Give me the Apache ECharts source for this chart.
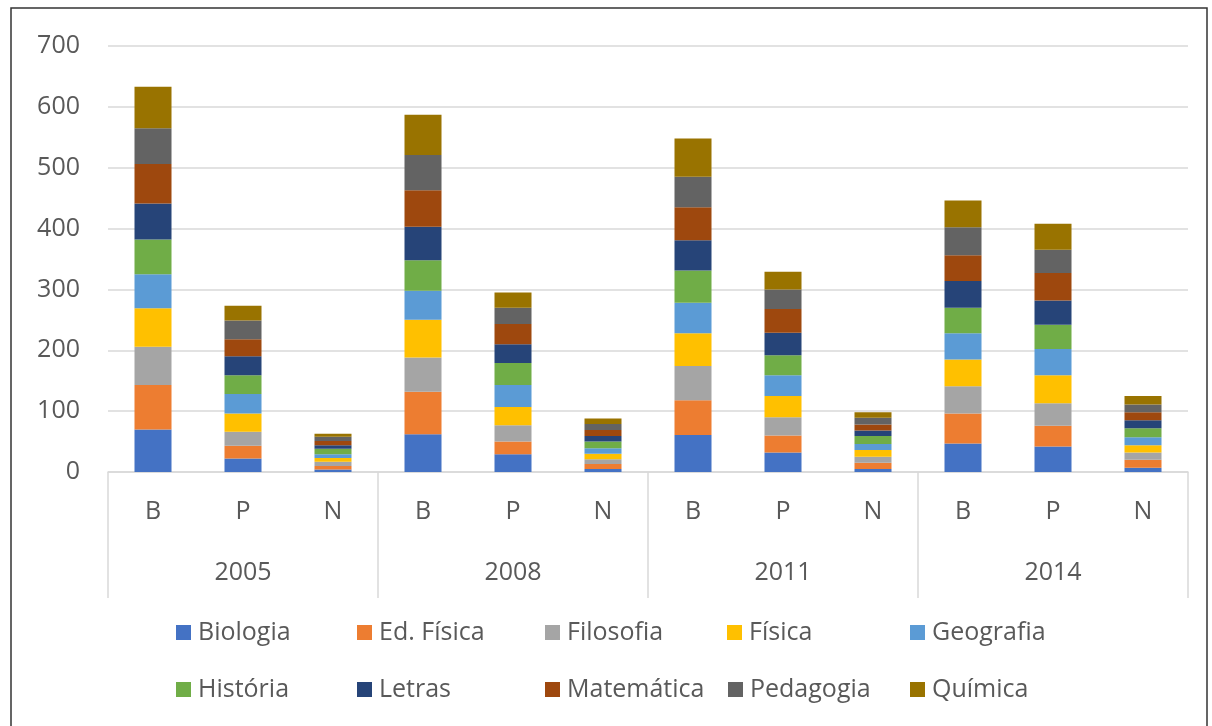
<!DOCTYPE html>
<html>
<head>
<meta charset="utf-8">
<script src="https://cdn.jsdelivr.net/npm/echarts@6/dist/echarts.min.js"></script>
<style>
html,body{margin:0;padding:0;background:#fff;}
#chart{width:1212px;height:726px;}
</style>
</head>
<body>
<div id="chart"></div>
<script>
// ---- data ----
const categories = ['B','P','N','B','P','N','B','P','N','B','P','N'];
const years = ['2005','2008','2011','2014'];
const seriesNames = ['Biologia','Ed. Física','Filosofia','Física','Geografia','História','Letras','Matemática','Pedagogia','Química'];
const biologia   = [70,22,4, 62,29,5, 61,32,5, 47,42,7];
const edFisica   = [73,21,6, 70,21,8, 57,28,10, 49,34,13];
const filosofia  = [63,23,7, 56,27,8, 56,30,10, 45,37,12];
const fisica     = [63,30,6, 62,30,9, 54,35,11, 44,46,12];
const geografia  = [56,32,6, 48,36,9, 50,34,10, 43,43,13];
const historia   = [57,31,9, 50,36,11, 53,33,13, 42,40,15];
const letras     = [59,31,6, 55,31,9, 50,37,9, 44,40,13];
const matematica = [65,28,7, 60,33,10, 54,39,10, 42,45,13];
const pedagogia  = [59,31,7, 58,27,10, 50,32,11, 46,38,13];
const quimica    = [68,24,5, 66,25,9, 63,29,9, 44,43,14];
const yTicks = [0,100,200,300,400,500,600,700];

const values = [biologia,edFisica,filosofia,fisica,geografia,historia,letras,matematica,pedagogia,quimica];
const colors = ['#4472C4','#ED7D31','#A5A5A5','#FFC000','#5B9BD5','#70AD47','#264478','#9E480E','#636363','#997300'];
const FONT = 'Open Sans';
const TXT = '#595959';

const chart = echarts.init(document.getElementById('chart'));

const legendPos = [
  [176,633],[357,633],[545,633],[727,633],[910,633],
  [176,690],[357,690],[545,690],[728,690],[910,690]
];
const legends = seriesNames.map((n,i)=>({
  data:[n],
  left: legendPos[i][0],
  top: legendPos[i][1]-13,
  icon:'rect',
  itemWidth:15,
  itemHeight:15,
  itemGap:0,
  padding:0,
  textStyle:{fontFamily:FONT,fontSize:25,color:TXT,padding:[0,0,0,2]}
}));

chart.setOption({
  backgroundColor:'#fff',
  animation:false,
  color:colors,
  graphic:[{
    type:'rect',
    shape:{x:11,y:8,width:1196,height:730},
    style:{fill:'none',stroke:'#333',lineWidth:1.5},
    silent:true
  }],
  legend: legends,
  grid:{left:108,right:24,top:46,bottom:254},
  xAxis:[{
    type:'category',
    data:categories,
    axisLine:{show:true,lineStyle:{color:'#D9D9D9',width:1.5}},
    axisTick:{show:false},
    axisLabel:{fontFamily:FONT,fontSize:25,color:TXT,margin:27,interval:0}
  },{
    type:'category',
    data:years,
    position:'bottom',
    axisLine:{show:false},
    axisTick:{show:true,length:126,interval:0,lineStyle:{color:'#D9D9D9',width:1.5}},
    axisLabel:{fontFamily:FONT,fontSize:25,color:TXT,margin:88,interval:0},
    splitLine:{show:false}
  }],
  yAxis:{
    type:'value',
    min:yTicks[0],
    max:yTicks[yTicks.length-1],
    interval:100,
    axisLine:{show:false},
    axisTick:{show:false},
    splitLine:{lineStyle:{color:'#D9D9D9',width:1.5}},
    axisLabel:{fontFamily:FONT,fontSize:25,color:TXT,margin:28}
  },
  series: seriesNames.map((n,i)=>({
    name:n,
    type:'bar',
    stack:'total',
    xAxisIndex:0,
    barWidth:37,
    data:values[i]
  }))
});
</script>
</body>
</html>
